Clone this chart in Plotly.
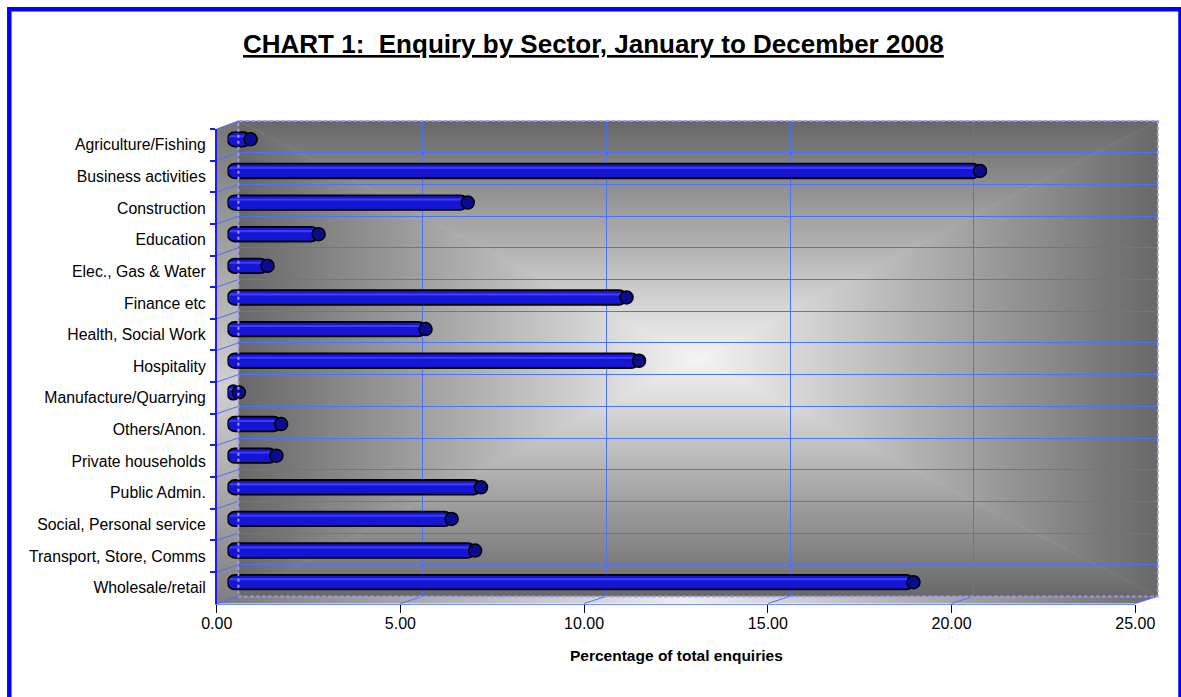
import base64
import plotly.graph_objects as go

# ---------------- data ----------------
sectors = [
    "Agriculture/Fishing", "Business activities", "Construction", "Education",
    "Elec., Gas & Water", "Finance etc", "Health, Social Work", "Hospitality",
    "Manufacture/Quarrying", "Others/Anon.", "Private households", "Public Admin.",
    "Social, Personal service", "Transport, Store, Comms", "Wholesale/retail",
]
values = [0.63, 20.48, 6.54, 2.48, 1.09, 10.86, 5.39, 11.20,
          0.31, 1.46, 1.33, 6.90, 6.10, 6.74, 18.67]
x_ticks = [0, 5, 10, 15, 20, 25]
x_tick_labels = ["0.00", "5.00", "10.00", "15.00", "20.00", "25.00"]
title_text = "CHART 1:\u00a0 Enquiry by Sector, January to December 2008"
x_title = "Percentage of total enquiries"

# ---------------- geometry helpers (pixels -> paper) ----------------
W, H = 1181, 697
def px(x): return x / W
def py(y): return 1 - y / H

FX0, FX1, FYT, FYB = 216.7, 1135.3, 129.0, 603.5      # front plane
BX0, BX1, BYT, BYB = 238.4, 1157.8, 121.0, 596.5      # back wall
MX0, MX1 = 227.5, 1146.1                              # mid depth (bars)
MYT, MYB = 123.5, 598.0
FONT = "Liberation Sans, Arial, sans-serif"
GRID = "#4f6fff"
n = len(sectors)
xmax = x_ticks[-1]

# ---------------- background (walls + floor) as svg ----------------
ox, oy = 216.0, 120.0
bw0, bw1, bt, bb = BX0 - ox, BX1 - ox, BYT - oy, BYB - oy
fl0, fl1, ft, fb = FX0 - ox, FX1 - ox, FYT - oy, FYB - oy
cx, cy = (bw0 + bw1) / 2, (bt + bb) / 2
edge, centre = "#686868", "#f4f4f4"
svg = f'''<svg xmlns="http://www.w3.org/2000/svg" width="942" height="486" viewBox="0 0 942 486" preserveAspectRatio="none">
<defs>
<linearGradient id="gt" gradientUnits="userSpaceOnUse" x1="0" y1="{bt}" x2="0" y2="{cy}"><stop offset="0" stop-color="{edge}"/><stop offset="1" stop-color="{centre}"/></linearGradient>
<linearGradient id="gb" gradientUnits="userSpaceOnUse" x1="0" y1="{bb}" x2="0" y2="{cy}"><stop offset="0" stop-color="{edge}"/><stop offset="1" stop-color="{centre}"/></linearGradient>
<linearGradient id="gl" gradientUnits="userSpaceOnUse" x1="{bw0}" y1="0" x2="{cx}" y2="0"><stop offset="0" stop-color="{edge}"/><stop offset="1" stop-color="{centre}"/></linearGradient>
<linearGradient id="gr" gradientUnits="userSpaceOnUse" x1="{bw1}" y1="0" x2="{cx}" y2="0"><stop offset="0" stop-color="{edge}"/><stop offset="1" stop-color="{centre}"/></linearGradient>
<linearGradient id="lw" gradientUnits="userSpaceOnUse" x1="0" y1="{bt}" x2="0" y2="{fb}"><stop offset="0" stop-color="#767676"/><stop offset="0.55" stop-color="#d0d0d0"/><stop offset="1" stop-color="#7e7e7e"/></linearGradient>
<linearGradient id="fl" gradientUnits="userSpaceOnUse" x1="{fl0}" y1="0" x2="{bw1}" y2="0"><stop offset="0" stop-color="#7a7a7a"/><stop offset="0.5" stop-color="#ececec"/><stop offset="1" stop-color="#6e6e6e"/></linearGradient>
</defs>
<polygon points="{bw0},{bt} {bw1},{bt} {cx},{cy}" fill="url(#gt)" stroke="url(#gt)" stroke-width="0.6"/>
<polygon points="{bw0},{bb} {bw1},{bb} {cx},{cy}" fill="url(#gb)" stroke="url(#gb)" stroke-width="0.6"/>
<polygon points="{bw0},{bt} {bw0},{bb} {cx},{cy}" fill="url(#gl)" stroke="url(#gl)" stroke-width="0.6"/>
<polygon points="{bw1},{bt} {bw1},{bb} {cx},{cy}" fill="url(#gr)" stroke="url(#gr)" stroke-width="0.6"/>
<polygon points="{fl0},{ft} {bw0},{bt} {bw0},{bb} {fl0},{fb}" fill="url(#lw)"/>
<polygon points="{fl0},{fb} {bw0},{bb} {bw1},{bb} {fl1},{fb}" fill="url(#fl)"/>
</svg>'''
svg_src = "data:image/svg+xml;base64," + base64.b64encode(svg.encode()).decode()

# ---------------- traces ----------------
fig = go.Figure()
# front axes carrier (invisible)
fig.add_trace(go.Scatter(x=values, y=sectors, mode="markers", marker=dict(opacity=0),
                         hoverinfo="skip", xaxis="x", yaxis="y"))
# back wall carrier (invisible)
fig.add_trace(go.Scatter(x=[None], y=[None], mode="markers", hoverinfo="skip",
                         xaxis="x2", yaxis="y2"))

# cylinders: drawn from the value back to zero so the rounded tip sits at zero
neg = [-v for v in values]
BAR_W = 0.46
fig.add_trace(go.Bar(x=neg, base=values, y=sectors, orientation="h", xaxis="x3", yaxis="y3",
                     width=BAR_W, customdata=values,
                     marker=dict(color="#1616d2", line=dict(width=0), cornerradius="50%"),
                     hovertemplate="%{y}: %{customdata:.2f}<extra></extra>"))
fig.add_trace(go.Bar(x=neg, base=values, y=sectors, orientation="h", xaxis="x3", yaxis="y3",
                     width=0.065, offset=-0.13,
                     marker=dict(color="#3c3cff", line=dict(width=0), cornerradius="50%"),
                     hoverinfo="skip"))
fig.add_trace(go.Bar(x=neg, base=values, y=sectors, orientation="h", xaxis="x3", yaxis="y3",
                     width=BAR_W,
                     marker=dict(color="rgba(0,0,0,0)", line=dict(color="#000000", width=1.8),
                                 cornerradius="50%"),
                     hoverinfo="skip"))
fig.add_trace(go.Scatter(x=values, y=sectors, mode="markers", xaxis="x3", yaxis="y3",
                         marker=dict(symbol="circle", size=13, color="#0b0b8e",
                                     line=dict(color="#000000", width=1.5)),
                         hoverinfo="skip"))

# ---------------- shapes ----------------
shapes = []
step_f = (FYB - FYT) / n
step_b = (BYB - BYT) / n
for k in range(n + 1):
    shapes.append(dict(type="line", xref="paper", yref="paper", layer="below",
                       x0=px(FX0), y0=py(FYT + k * step_f), x1=px(BX0), y1=py(BYT + k * step_b),
                       line=dict(color=GRID, width=1)))
ppu = (FX1 - FX0) / xmax
for t in x_ticks:
    shapes.append(dict(type="line", xref="paper", yref="paper", layer="below",
                       x0=px(FX0 + t * ppu), y0=py(FYB), x1=px(BX0 + t * ppu), y1=py(BYB),
                       line=dict(color=GRID, width=1)))
# dotted back-wall border (drawn above, like the original)
shapes.append(dict(type="rect", xref="paper", yref="paper", layer="above",
                   x0=px(BX0), x1=px(BX1), y0=py(BYB), y1=py(BYT),
                   line=dict(color="#9a9aff", width=2, dash="dot")))
# outer blue frame
shapes.append(dict(type="rect", xref="paper", yref="paper", layer="above",
                   x0=px(9.3), x1=px(1180.5), y0=py(700), y1=py(9.2),
                   line=dict(color="#0000ff", width=4.5)))

# ---------------- layout ----------------
fig.update_layout(
    width=W, height=H, margin=dict(l=0, r=0, t=0, b=0),
    paper_bgcolor="#ffffff", plot_bgcolor="rgba(0,0,0,0)",
    showlegend=False, barmode="overlay",
    font=dict(family=FONT, color="#000000"),
    xaxis=dict(domain=[px(FX0), px(FX1)], range=[0, xmax], anchor="y",
               tickvals=x_ticks, ticktext=x_tick_labels, ticks="outside", ticklen=8,
               tickcolor="#000000", tickwidth=1, showgrid=False, zeroline=False,
               showline=True, linecolor="#6f8cff", linewidth=1.2, ticklabelstandoff=-3,
               tickfont=dict(size=16, family=FONT), automargin=False, fixedrange=True),
    yaxis=dict(domain=[py(FYB), py(FYT)], anchor="x", type="category",
               categoryorder="array", categoryarray=sectors, range=[n - 0.5, -0.5],
               tickson="boundaries", ticks="outside", ticklen=5, tickcolor="#1a1aff",
               tickwidth=1.5, showline=True, linecolor="#1a1aff", linewidth=1.5,
               showgrid=False, zeroline=False, ticklabelstandoff=6,
               tickfont=dict(size=15.8, family=FONT), automargin=False, fixedrange=True),
    xaxis2=dict(domain=[px(BX0), px(BX1)], range=[0, xmax], anchor="y2",
                tickvals=x_ticks[1:-1], showticklabels=False, ticks="", showgrid=True,
                gridcolor=GRID, gridwidth=1, zeroline=False, showline=False, fixedrange=True),
    yaxis2=dict(domain=[py(BYB), py(BYT)], anchor="x2", range=[n, 0],
                tickvals=list(range(1, n)), showticklabels=False, ticks="", showgrid=True,
                gridcolor=GRID, gridwidth=1, zeroline=False, showline=False, fixedrange=True),
    xaxis3=dict(domain=[px(MX0), px(MX1)], range=[0, xmax], anchor="y3", visible=False,
                fixedrange=True),
    yaxis3=dict(domain=[py(MYB), py(MYT)], anchor="x3", type="category",
                categoryorder="array", categoryarray=sectors, range=[n - 0.5, -0.5],
                visible=False, fixedrange=True),
    images=[dict(source=svg_src, xref="paper", yref="paper", x=px(ox), y=py(oy),
                 sizex=942 / W, sizey=486 / H, xanchor="left", yanchor="top",
                 sizing="stretch", layer="below")],
    shapes=shapes,
    annotations=[
        dict(text=title_text, x=px(593.5), y=py(43.6), xref="paper", yref="paper",
             xanchor="center", yanchor="middle", showarrow=False,
             font=dict(size=26, family=FONT, weight="bold", lineposition="under", color="#000000")),
        dict(text=x_title, x=px(676), y=py(655), xref="paper", yref="paper",
             xanchor="center", yanchor="middle", showarrow=False,
             font=dict(size=15.5, family=FONT, weight="bold", color="#000000")),
    ],
)

fig.write_html("out.html")
